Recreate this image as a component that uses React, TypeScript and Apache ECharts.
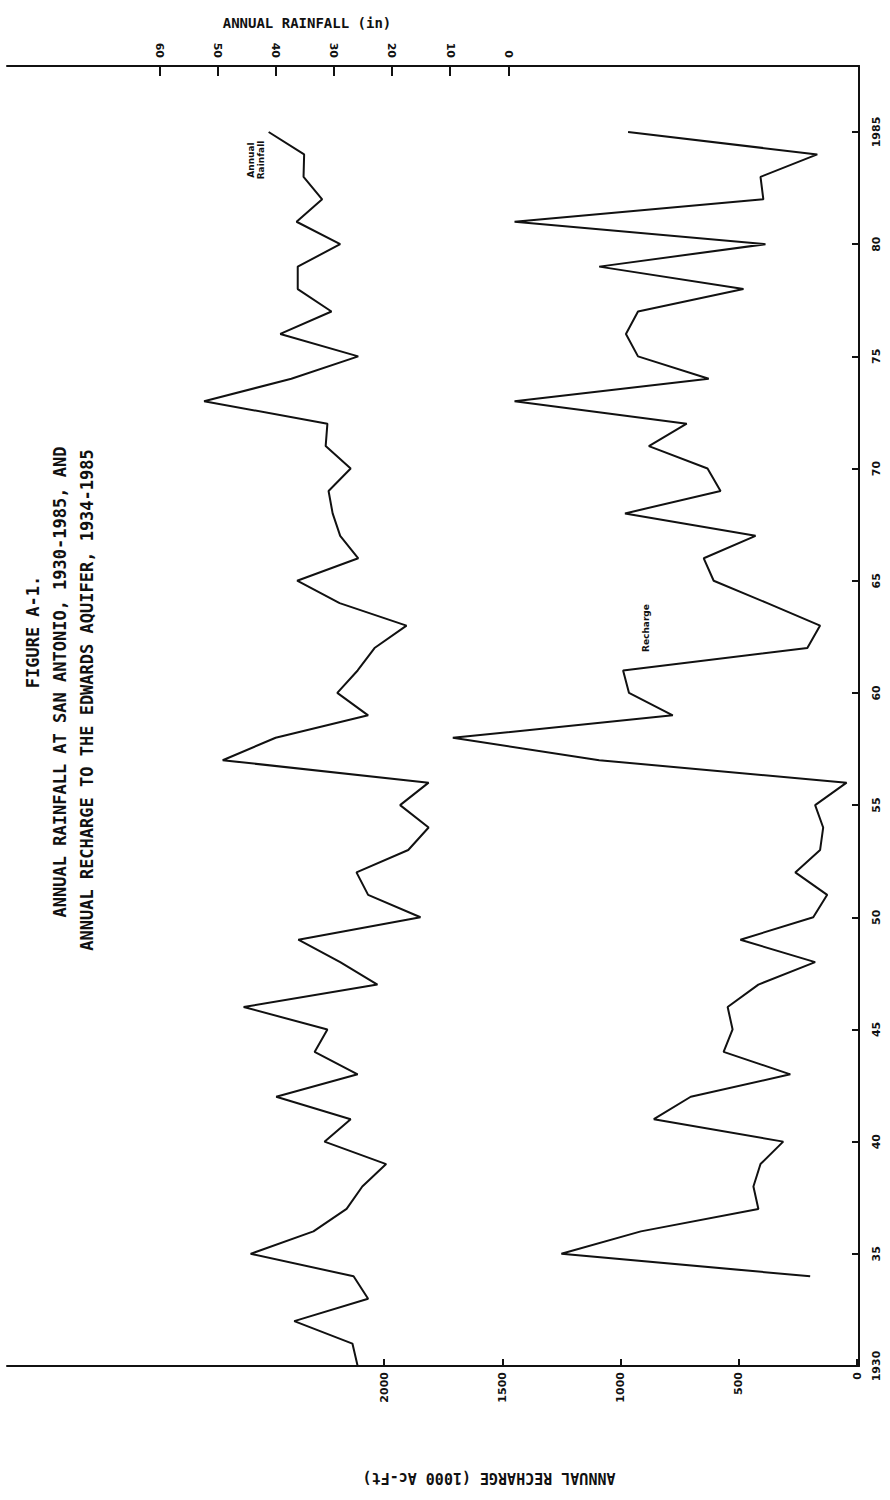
import React, { useEffect, useRef } from "react";
import * as echarts from "echarts";

// ---------- data ----------
const rainYears = [
  1930, 1931, 1932, 1933, 1934, 1935, 1936, 1937, 1938, 1939,
  1940, 1941, 1942, 1943, 1944, 1945, 1946, 1947, 1948, 1949,
  1950, 1951, 1952, 1953, 1954, 1955, 1956, 1957, 1958, 1959,
  1960, 1961, 1962, 1963, 1964, 1965, 1966, 1967, 1968, 1969,
  1970, 1971, 1972, 1973, 1974, 1975, 1976, 1977, 1978, 1979,
  1980, 1981, 1982, 1983, 1984, 1985,
];
const rainfall = [
  25.9, 26.8, 36.8, 24.1, 26.6, 44.3, 33.5, 27.8, 25.1, 21.0,
  31.6, 27.1, 39.9, 25.9, 33.3, 31.1, 45.5, 22.5, 28.9, 36.1,
  15.1, 24.1, 26.1, 17.2, 13.7, 18.6, 13.7, 49.1, 40.0, 24.1,
  29.4, 25.9, 23.0, 17.5, 29.0, 36.3, 25.8, 28.9, 30.2, 30.9,
  27.1, 31.4, 31.1, 52.3, 37.3, 25.8, 39.2, 30.4, 36.2, 36.2,
  28.9, 36.4, 32.0, 35.2, 35.1, 41.2,
];
const rechargeYears = [
  1934, 1935, 1936, 1937, 1938, 1939, 1940, 1941, 1942, 1943,
  1944, 1945, 1946, 1947, 1948, 1949, 1950, 1951, 1952, 1953,
  1954, 1955, 1956, 1957, 1958, 1959, 1960, 1961, 1962, 1963,
  1964, 1965, 1966, 1967, 1968, 1969, 1970, 1971, 1972, 1973,
  1974, 1975, 1976, 1977, 1978, 1979, 1980, 1981, 1982, 1983,
  1984, 1985,
];
const recharge = [
  198, 1250, 914, 417, 438, 408, 312, 859, 703, 282,
  564, 526, 547, 417, 177, 493, 185, 126, 261, 156,
  143, 177, 44, 1090, 1709, 779, 964, 989, 210, 156,
  379, 606, 648, 429, 981, 577, 632, 880, 720, 1448,
  627, 926, 977, 926, 480, 1090, 387, 1448, 396, 408,
  168, 968,
];
const rechargeTicks = [0, 500, 1000, 1500, 2000];
const rainTicks = [0, 10, 20, 30, 40, 50, 60];
const yearTicks = [1930, 1935, 1940, 1945, 1950, 1955, 1960, 1965, 1970, 1975, 1980, 1985];
const yearTickLabels = ["1930", "35", "40", "45", "50", "55", "60", "65", "70", "75", "80", "1985"];

// ---------- layout (pixels in the 890 x 1500 page) ----------
const W = 890;
const H = 1500;
const gLeft = 7;
const gRight = 859;
const gTop = 66;
const gBottom = 1366;
const rech0X = 857;
const rech2000X = 384;
const rain0X = 508.3;
const rain60X = 159.3;
const year1985Y = 132;

const INK = "#111";
const FONT = "DejaVu Sans";
const MONO = "DejaVu Sans Mono";

export default function App() {
  const ref = useRef<HTMLDivElement>(null);
  useEffect(() => {
    if (!ref.current) return;
    const chart = echarts.init(ref.current, null, { renderer: "svg" });

    const rechPx = (rech0X - rech2000X) / 2000;
    const rechMin = -(gRight - rech0X) / rechPx;
    const rechMax = (rech0X - gLeft) / rechPx;
    const rainPx = (rain0X - rain60X) / 60;
    const rainMin = -(gRight - rain0X) / rainPx;
    const rainMax = (rain0X - gLeft) / rainPx;
    const yearPx = (gBottom - year1985Y) / 55;
    const yearMax = 1985 + (year1985Y - gTop) / yearPx;

    const tickLabel = {
      rotate: 90,
      fontFamily: FONT,
      fontWeight: "bold" as const,
      fontSize: 11,
      color: INK,
      formatter: (v: number) => String(Math.round(v)),
    };

    chart.setOption({
      animation: false,
      backgroundColor: "#fff",
      grid: {
        left: gLeft,
        right: W - gRight,
        top: gTop,
        bottom: H - gBottom,
        containLabel: false,
      },
      xAxis: [
        {
          type: "value",
          position: "bottom",
          inverse: true,
          min: rechMin,
          max: rechMax,
          axisLine: { show: true, onZero: false, lineStyle: { color: INK, width: 2 } },
          axisTick: { show: true, inside: true, length: 7, customValues: rechargeTicks, lineStyle: { color: INK, width: 2 } },
          axisLabel: { ...tickLabel, customValues: rechargeTicks, margin: 6 },
          splitLine: { show: false },
        },
        {
          type: "value",
          position: "top",
          inverse: true,
          min: rainMin,
          max: rainMax,
          axisLine: { show: true, onZero: false, lineStyle: { color: INK, width: 2 } },
          axisTick: { show: true, inside: true, length: 10, customValues: rainTicks, lineStyle: { color: INK, width: 2 } },
          axisLabel: { ...tickLabel, customValues: rainTicks, margin: 8 },
          splitLine: { show: false },
        },
      ],
      yAxis: {
        type: "value",
        position: "right",
        min: 1930,
        max: yearMax,
        axisLine: { show: true, onZero: false, lineStyle: { color: INK, width: 2 } },
        axisTick: { show: true, inside: true, length: 7, customValues: yearTicks, lineStyle: { color: INK, width: 2 } },
        axisLabel: {
          ...tickLabel,
          customValues: yearTicks,
          margin: 12,
          formatter: (v: number) => yearTickLabels[yearTicks.indexOf(Math.round(v))] ?? "",
        },
        splitLine: { show: false },
      },
      series: [
        {
          name: "Annual Rainfall",
          type: "line",
          xAxisIndex: 1,
          showSymbol: false,
          lineStyle: { color: INK, width: 2 },
          data: rainYears.map((y, i) => [rainfall[i], y]),
        },
        {
          name: "Recharge",
          type: "line",
          xAxisIndex: 0,
          showSymbol: false,
          lineStyle: { color: INK, width: 2 },
          data: rechargeYears.map((y, i) => [recharge[i], y]),
        },
      ],
      graphic: [
        {
          type: "text",
          x: 307,
          y: 23,
          style: { text: "ANNUAL RAINFALL (in)", font: `bold 14px "${MONO}"`, fill: INK, textAlign: "center", textVerticalAlign: "middle" },
        },
        {
          type: "text",
          x: 489,
          y: 1478,
          rotation: Math.PI,
          style: { text: "ANNUAL RECHARGE (1000 Ac-Ft)", font: `bold 15px "${MONO}"`, fill: INK, textAlign: "center", textVerticalAlign: "middle" },
        },
        {
          type: "text",
          x: 33,
          y: 632,
          rotation: Math.PI / 2,
          style: { text: "FIGURE A-1.", font: `bold 17px "${MONO}"`, fill: INK, textAlign: "center", textVerticalAlign: "middle" },
        },
        {
          type: "text",
          x: 60,
          y: 682,
          rotation: Math.PI / 2,
          style: { text: "ANNUAL RAINFALL AT SAN ANTONIO, 1930-1985, AND", font: `bold 17px "${MONO}"`, fill: INK, textAlign: "center", textVerticalAlign: "middle" },
        },
        {
          type: "text",
          x: 87,
          y: 700,
          rotation: Math.PI / 2,
          style: { text: "ANNUAL RECHARGE TO THE EDWARDS AQUIFER, 1934-1985", font: `bold 17px "${MONO}"`, fill: INK, textAlign: "center", textVerticalAlign: "middle" },
        },
        {
          type: "text",
          x: 256,
          y: 160,
          rotation: Math.PI / 2,
          style: { text: "Annual\nRainfall", font: `bold 9px "${FONT}"`, fill: INK, textAlign: "center", textVerticalAlign: "middle", lineHeight: 10 },
        },
        {
          type: "text",
          x: 646,
          y: 628,
          rotation: Math.PI / 2,
          style: { text: "Recharge", font: `bold 9px "${FONT}"`, fill: INK, textAlign: "center", textVerticalAlign: "middle" },
        },
      ],
    });
    return () => chart.dispose();
  }, []);

  return (
    <div
      ref={ref}
      style={{ position: "absolute", left: 0, top: 0, width: W, height: H, background: "#fff" }}
    />
  );
}
